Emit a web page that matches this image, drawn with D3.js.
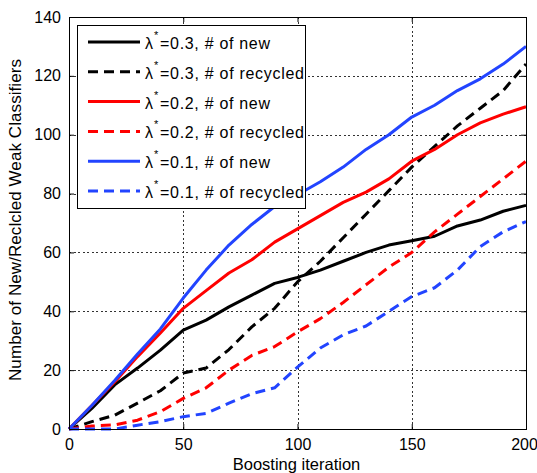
<!DOCTYPE html>
<html>
<head>
<meta charset="utf-8">
<script src="https://cdn.jsdelivr.net/npm/d3@7"></script>
<style>
  html, body { margin: 0; padding: 0; background: #fff; }
  svg text { font-family: Arial, "Liberation Sans", sans-serif; fill: #000; }
</style>
</head>
<body>
<svg id="chart" width="537" height="473"></svg>
<script>
// Boosting iterations at which the counts are sampled
const iterations = [0, 10, 20, 30, 40, 50, 60, 70, 80, 90, 100, 110, 120, 130, 140, 150, 160, 170, 180, 190, 200];

// Counts of new / recycled weak classifiers for each lambda*
const newL03      = [0, 7, 15, 20.7, 26.8, 33.6, 37, 41.5, 45.5, 49.5, 51.5, 54, 57, 60, 62.5, 64, 65.5, 69, 71, 74, 76];
const recycledL03 = [0, 2.5, 4.7, 8.8, 13, 19, 20.7, 27, 34.7, 41, 50, 57, 65, 73, 81, 89, 96, 103, 109, 115, 124];
const newL02      = [0, 8, 16, 24.6, 32.6, 41, 47, 53, 57.5, 63.5, 68, 72.5, 77, 80.5, 85, 91, 95, 100, 104, 107, 109.5];
const recycledL02 = [0, 1, 1.4, 3, 5.9, 10.4, 14, 20, 25, 28, 33, 37.5, 43, 49, 55, 60, 67, 73, 79, 85, 91];
const newL01      = [0, 8, 16.5, 25.5, 34, 44.5, 54, 62.5, 69.5, 75.6, 79.6, 84, 89, 95, 100, 106, 110, 115, 119, 124, 130];
const recycledL01 = [0, 0, 0, 1.3, 2.5, 4.2, 5.3, 8.8, 12, 14, 21, 27.5, 32, 35, 40, 45, 48, 54, 62, 67, 70.5];

const xTicks = [0, 50, 100, 150, 200];
const yTicks = [0, 20, 40, 60, 80, 100, 120, 140];

const series = [
  { lambda: "0.3", kind: "new",      values: newL03,      color: "#000000", dashed: false },
  { lambda: "0.3", kind: "recycled", values: recycledL03, color: "#000000", dashed: true  },
  { lambda: "0.2", kind: "new",      values: newL02,      color: "#ff0000", dashed: false },
  { lambda: "0.2", kind: "recycled", values: recycledL02, color: "#ff0000", dashed: true  },
  { lambda: "0.1", kind: "new",      values: newL01,      color: "#2244ff", dashed: false },
  { lambda: "0.1", kind: "recycled", values: recycledL01, color: "#2244ff", dashed: true  }
];

const svg = d3.select("#chart");
const plot = { left: 69, top: 17, right: 526, bottom: 429 };

const x = d3.scaleLinear().domain([0, 200]).range([plot.left, plot.right]);
const y = d3.scaleLinear().domain([0, 140]).range([plot.bottom, plot.top]);

// dotted grid
const grid = svg.append("g").attr("stroke", "#333").attr("stroke-width", 1)
  .attr("stroke-dasharray", "2,2.5").attr("shape-rendering", "crispEdges");
grid.selectAll(".gx").data(xTicks.slice(1, -1)).join("line")
  .attr("x1", d => Math.round(x(d)) + 0.5).attr("x2", d => Math.round(x(d)) + 0.5)
  .attr("y1", plot.top).attr("y2", plot.bottom);
grid.selectAll(".gy").data(yTicks.slice(1, -1)).join("line")
  .attr("y1", d => Math.round(y(d)) + 0.5).attr("y2", d => Math.round(y(d)) + 0.5)
  .attr("x1", plot.left).attr("x2", plot.right);

// axes with inward ticks
const tickLen = 5;
const xAxis = svg.append("g").attr("transform", `translate(0,${plot.bottom})`)
  .call(d3.axisBottom(x).tickValues(xTicks).tickSizeInner(-tickLen).tickSizeOuter(0).tickPadding(10));
const yAxis = svg.append("g").attr("transform", `translate(${plot.left},0)`)
  .call(d3.axisLeft(y).tickValues(yTicks).tickSizeInner(-tickLen).tickSizeOuter(0).tickPadding(8));
svg.append("g").attr("transform", `translate(0,${plot.top})`)
  .call(d3.axisTop(x).tickValues(xTicks).tickSizeInner(-tickLen).tickSizeOuter(0).tickFormat(""));
svg.append("g").attr("transform", `translate(${plot.right},0)`)
  .call(d3.axisRight(y).tickValues(yTicks).tickSizeInner(-tickLen).tickSizeOuter(0).tickFormat(""));
svg.selectAll(".domain").remove();
svg.selectAll(".tick line").attr("stroke", "#000");
[xAxis, yAxis].forEach(a => a.selectAll("text")
  .style("font-family", "Arial, 'Liberation Sans', sans-serif").style("font-size", "16px").attr("fill", "#000"));
// keep the last x tick label inside the canvas
xAxis.selectAll(".tick").filter(d => d === 200).select("text").attr("dx", -2);

// curves
const line = d3.line().x((d, i) => x(iterations[i])).y(d => y(d));
svg.append("g").selectAll("path").data(series).join("path")
  .attr("d", d => line(d.values))
  .attr("fill", "none")
  .attr("stroke", d => d.color)
  .attr("stroke-width", 3)
  .attr("stroke-linejoin", "round")
  .attr("stroke-dasharray", d => d.dashed ? "10,6" : null);

// plot frame
svg.append("rect")
  .attr("x", plot.left + 0.5).attr("y", plot.top + 0.5)
  .attr("width", plot.right - plot.left).attr("height", plot.bottom - plot.top)
  .attr("fill", "none").attr("stroke", "#000").attr("stroke-width", 1)
  .attr("shape-rendering", "crispEdges");

// legend
const legend = svg.append("g");
legend.append("rect")
  .attr("x", 77.5).attr("y", 25.5).attr("width", 228).attr("height", 183)
  .attr("fill", "#fff").attr("stroke", "#000").attr("stroke-width", 1)
  .attr("shape-rendering", "crispEdges");
const rowY = d3.scaleLinear().domain([0, 5]).range([42, 191]);
const items = legend.selectAll(".item").data(series).join("g")
  .attr("transform", (d, i) => `translate(0,${rowY(i)})`);
items.append("line")
  .attr("x1", 88).attr("x2", 140).attr("y1", 0).attr("y2", 0)
  .attr("stroke", d => d.color).attr("stroke-width", 3)
  .attr("stroke-dasharray", d => d.dashed ? "10,6" : null);
items.append("text").attr("x", 145).attr("y", 7).style("font-size", "16px").text("λ");
items.append("text").attr("x", 154).attr("y", -3).style("font-size", "11px").text("*");
items.append("text").attr("x", 160).attr("y", 7).style("font-size", "16px")
  .attr("textLength", d => d.kind === "new" ? 110 : 144)
  .attr("lengthAdjust", "spacing")
  .text(d => `=${d.lambda}, # of ${d.kind}`);

// axis titles
svg.append("text")
  .attr("x", (plot.left + plot.right) / 2 - 1).attr("y", 470)
  .attr("text-anchor", "middle").style("font-size", "16.5px")
  .text("Boosting iteration");
svg.append("text")
  .attr("transform", `translate(21,220) rotate(-90)`)
  .attr("text-anchor", "middle").style("font-size", "17px")
  .attr("textLength", 322).attr("lengthAdjust", "spacing")
  .text("Number of New/Reclcled Weak Classifiers");
</script>
</body>
</html>
